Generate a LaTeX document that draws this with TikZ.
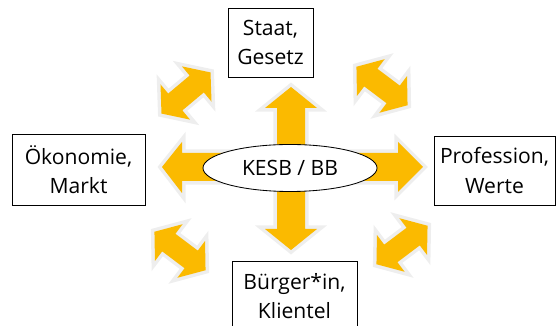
\documentclass[tikz,border=0pt]{standalone}
\usepackage{fontspec}
\setmainfont{Open Sans}
\usetikzlibrary{shapes.geometric}
\definecolor{KesbGelb}{RGB}{251,186,0}
\definecolor{Schein}{RGB}{238,238,238}

\tikzset{
  feld/.style={draw, line width=0.6pt, align=center, inner sep=0pt, font=\fontsize{15}{21}\selectfont},
  pfeil/.style={fill=KesbGelb, preaction={draw=Schein, line width=5pt, line join=miter}},
  pics/doppelpfeil/.style={code={
    \path[pfeil] (-32,0)--(-14,-23)--(-14,-11)--(14,-11)--(14,-23)--(32,0)--(14,23)--(14,11)--(-14,11)--(-14,23)--cycle;}}
}

\begin{document}
\begin{tikzpicture}[x=0.025cm,y=-0.025cm]
  \useasboundingbox (0,0) rectangle (560,326);
  % Kreuz in der Mitte
  \path[pfeil] (291,87)--(317,108)--(305,108)--(305,153)--(398,153)--(398,142)--(423,167)--(398,192)--(398,181)--(305,181)--(305,229)--(317,229)--(291,250)--(265,229)--(277,229)--(277,181)--(182,181)--(182,193)--(162,167)--(182,142)--(182,153)--(277,153)--(277,108)--(265,108)--cycle;
  % diagonale Pfeile
  \pic[rotate=40] at (186,93) {doppelpfeil};
  \pic[rotate=-37] at (382,86) {doppelpfeil};
  \pic[rotate=-37] at (180,251) {doppelpfeil};
  \pic[rotate=37] at (402,245) {doppelpfeil};
  \node[feld, ellipse, fill=white, minimum width=4.35cm, minimum height=1.175cm] (kesb) at (290,168) {KESB / BB};
  \node[feld, minimum width=2.125cm, minimum height=1.725cm] (staat) at (270.5,42.5) {Staat,\\Gesetz};
  \node[feld, minimum width=3.325cm, minimum height=1.775cm] (oekonomie) at (78.5,169.5) {Ökonomie,\\Markt};
  \node[feld, minimum width=3.025cm, minimum height=1.725cm] (profession) at (494.5,170.5) {Profession,\\Werte};
  \node[feld, minimum width=3.125cm, minimum height=1.75cm] (buerger) at (294.5,296) {Bürger*in,\\Klientel};
\end{tikzpicture}
\end{document}
